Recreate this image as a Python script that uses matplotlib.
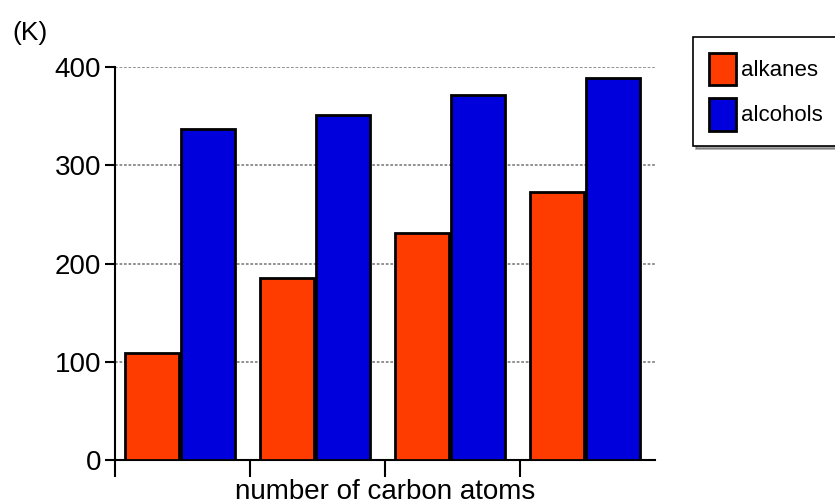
import numpy as np
import matplotlib
matplotlib.use("Agg")
import matplotlib.pyplot as plt

# boiling points (K)
groups = np.arange(4)
alkanes = [109, 185, 231, 273]
alcohols = [337, 351, 371, 389]
series_names = ["alkanes", "alcohols"]
yticks = [0, 100, 200, 300, 400]

plt.rcParams['font.family'] = ['Liberation Sans', 'DejaVu Sans']

fig = plt.figure(figsize=(8.35, 5.04), dpi=100)
ax = fig.add_axes([115 / 835, 44 / 504, 540 / 835, 393 / 504])

w = 0.40
ax.bar(groups + 0.277, alkanes, width=w, color="#ff3c00", edgecolor="black",
       linewidth=2, label=series_names[0], zorder=3)
ax.bar(groups + 0.692, alcohols, width=w, color="#0000dd", edgecolor="black",
       linewidth=2, label=series_names[1], zorder=3)

ax.set_xlim(0, 4)
ax.set_ylim(0, 400)
ax.set_yticks(yticks)
ax.set_yticklabels([str(v) for v in yticks], fontsize=20)
ax.set_xticks([0, 1, 2, 3])
ax.set_xticklabels([])
ax.tick_params(axis="y", length=7, width=1.5, pad=3)
ax.tick_params(axis="x", length=12, width=1.5)

for v in yticks[1:]:
    ax.axhline(v, color="#888888", linestyle=(0, (1.5, 1)), linewidth=1.3, zorder=1)

ax.spines["top"].set_visible(False)
ax.spines["right"].set_visible(False)
ax.spines["left"].set_linewidth(1.5)
ax.spines["bottom"].set_linewidth(1.5)

ax.set_xlabel("number of carbon atoms", fontsize=20, labelpad=-2)
fig.text(12 / 835, 1 - 40 / 504, "(K)", fontsize=19)

leg = ax.legend(loc="upper left", bbox_to_anchor=(693 / 835, 1 - 37 / 504),
                bbox_transform=fig.transFigure, fontsize=16, frameon=True,
                fancybox=False, shadow=True, edgecolor="black",
                handlelength=1.25, handleheight=1.9, handletextpad=0.2,
                labelspacing=0.55, borderpad=0.7, borderaxespad=0)
leg.get_frame().set_linewidth(1.2)

fig.savefig("out.png", dpi=100)
